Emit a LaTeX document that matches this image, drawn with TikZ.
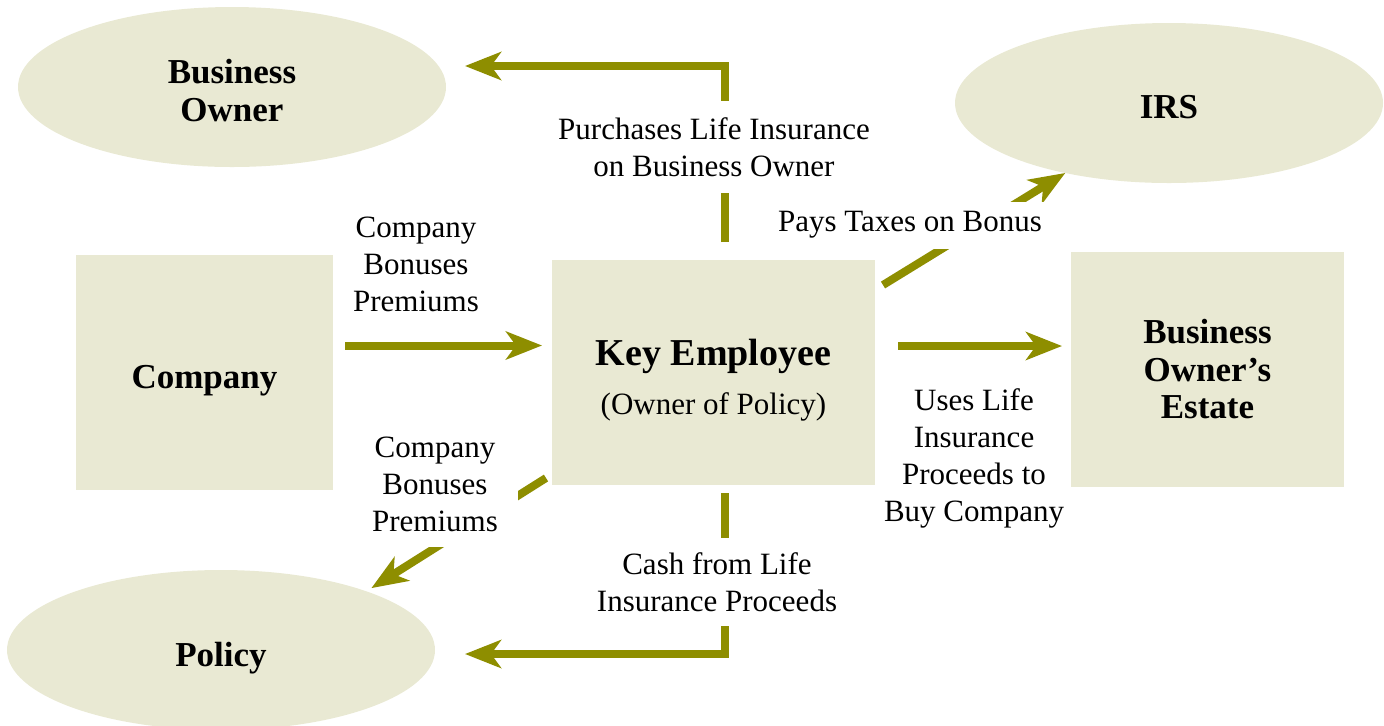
\documentclass[tikz,border=0pt]{standalone}
\usepackage{fontspec}
\setmainfont{Liberation Serif}
\usetikzlibrary{arrows.meta,shapes.geometric}

\definecolor{boxfill}{RGB}{233,233,211}
\definecolor{flowcol}{RGB}{142,142,0}
\newcommand{\bigbold}{\fontsize{17.5}{18.75}\selectfont\bfseries}
\newcommand{\notefont}{\fontsize{15.5}{18.5}\selectfont}
% lower a line of text without changing the size of its box
\newcommand{\drop}[2]{\raisebox{-#1}[\height][\depth]{#2}}

\begin{document}
\begin{tikzpicture}[x=0.5pt, y=-0.5pt,
    party/.style={ellipse, fill=boxfill, minimum width=214pt, minimum height=80pt,
        inner sep=0pt, outer sep=0pt, align=center, font=\bigbold},
    block/.style={rectangle, fill=boxfill, inner sep=0pt, outer sep=0pt,
        align=center, font=\bigbold},
    flow/.style={draw=flowcol, line width=4pt,
        -{Stealth[length=18pt, width=14pt, inset=5pt]}},
    note/.style={align=center, font=\notefont, fill=white, inner xsep=2pt}]
    \useasboundingbox (0,0) rectangle (1384,725);

    % the parties
    \node[party] (owner) at (232,87) {\drop{1.75pt}{Business}\\\drop{1.75pt}{Owner}};
    \node[party] (irs) at (1169,103) {\drop{2pt}{IRS}};
    \node[party] (policy) at (221,650) {\drop{4pt}{Policy}};
    \node[block, minimum width=128.5pt, minimum height=117.5pt] (company) at (204.5,372.5) {\drop{4pt}{Company}};
    \node[block, minimum width=161.5pt, minimum height=112.5pt] (key) at (713.5,372.5)
        {{\fontsize{19}{22}\selectfont\drop{4.5pt}{Key Employee}}\\[7pt]\mdseries\notefont\drop{3pt}{(Owner of Policy)}};
    \node[block, minimum width=136.5pt, minimum height=117.5pt] (estate) at (1207.5,369.5) {Business\\Owner's\\Estate};

    % money flows
    \draw[flow, shorten <=6pt, shorten >=5pt] ([yshift=13.5pt]company.east) -- ([yshift=13.5pt]key.west);
    \draw[flow, shorten <=11.5pt, shorten >=4.5pt] ([yshift=13.25pt]key.east) -- ([yshift=11.75pt]estate.west);
    \draw[flow, shorten <=9pt, shorten >=9.5pt] ([xshift=5.75pt]key.north) |- ([yshift=10.5pt]owner.east);
    \draw[flow, shorten <=4pt, shorten >=15pt] ([xshift=5.75pt]key.south) |- ([yshift=-2pt]policy.east);
    \draw[flow] ([xshift=4pt, yshift=-12.5pt]key.north east) -- (irs.214);
    \draw[flow, shorten >=3pt] ([xshift=-3pt, yshift=3.5pt]key.south west) -- (policy.22);

    % labels, cutting the lines they sit on
    \node[note] (bonuslbl) at (416,264) {Company\\Bonuses\\Premiums};
    \node[note, inner ysep=8pt] (buylbl) at (714,147) {Purchases Life Insurance\\on Business Owner};
    \node[note, inner ysep=5pt] (taxlbl) at (910,225) {Pays Taxes on Bonus};
    \node[note] (uselbl) at (974,458.5) {Uses Life\\Insurance\\Proceeds to\\Buy Company};
    \node[note, inner xsep=10pt, inner ysep=8pt] (premlbl) at (435,484) {Company\\Bonuses\\Premiums};
    \node[note, inner ysep=7pt] (cashlbl) at (717,582) {Cash from Life\\Insurance Proceeds};
\end{tikzpicture}
\end{document}
